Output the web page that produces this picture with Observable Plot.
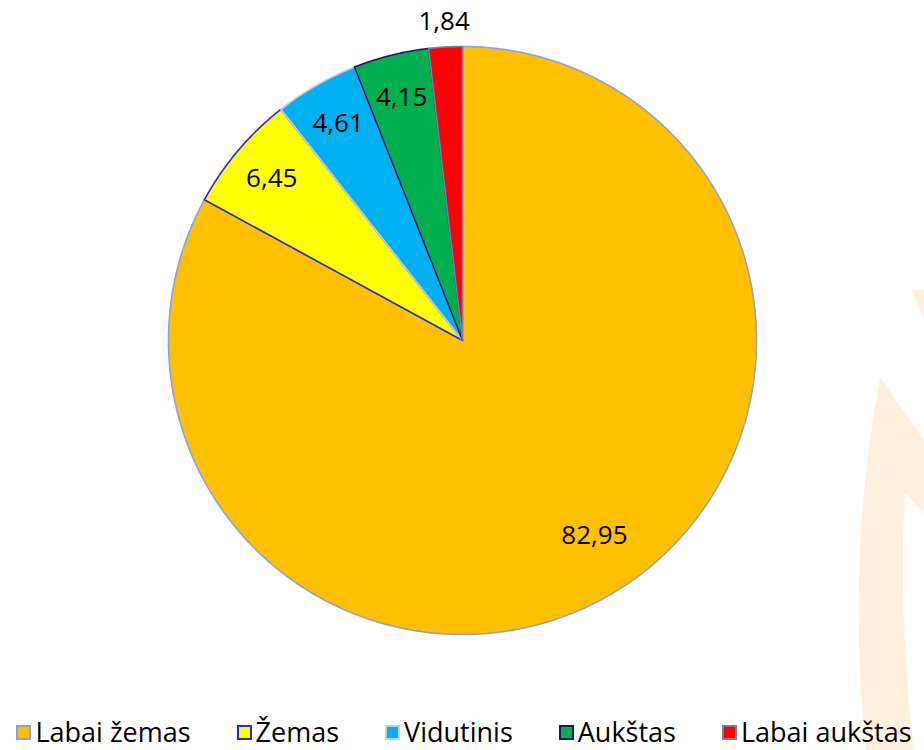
<!DOCTYPE html>
<html>
<head>
<meta charset="utf-8">
<script src="https://cdn.jsdelivr.net/npm/d3@7"></script>
<script src="https://cdn.jsdelivr.net/npm/@observablehq/plot@0.6"></script>
<style>
  html, body { margin: 0; padding: 0; background: #ffffff; }
  body { width: 924px; height: 750px; position: relative; overflow: hidden; font-family: "Open Sans", sans-serif; }
  #wm { position: absolute; left: 0; top: 0; z-index: 0; }
  #chart { position: absolute; left: 0; top: 0; z-index: 1; }
  #legend { position: absolute; left: 0; top: 717px; width: 924px; height: 30px; line-height: 30px; display: flex; justify-content: center; align-items: center; gap: 46px; z-index: 1; font-size: 27px; color: #000; padding-left: 4px; box-sizing: border-box; }
  .item { display: flex; align-items: center; gap: 4px; white-space: nowrap; }
  .sw { width: 11px; height: 11px; border-width: 2px; border-style: solid; }
</style>
</head>
<body>
<svg id="wm" width="924" height="750"><path d="M880,378 L924,440 L924,513 L905,493 Q898,620 914,750 L866,750 Q846,560 880,378 Z M911,290 L924,290 L924,318 Z" fill="#FFF0DD"/></svg>
<div id="chart"></div>
<div id="legend"></div>
<script>
const categories = ["Labai žemas", "Žemas", "Vidutinis", "Aukštas", "Labai aukštas"];
const values = [82.95, 6.45, 4.61, 4.15, 1.84];
const labels = ["82,95", "6,45", "4,61", "4,15", "1,84"];
const fills = ["#FFC000", "#FFFF00", "#00B0F0", "#00B050", "#FF0000"];
const borders = ["#8EA2D8", "#2B2BC8", "#BFCFE8", "#1A1A5E", "#7E7AA8"];

const W = 924, H = 710, R = 294, CX = 462, CY = 340;

const arcs = d3.pie().sort(null).value(d => d)(values);

const slicePts = [];
arcs.forEach((a, i) => {
  slicePts.push({k: i, x: 0, y: 0});
  const n = Math.max(4, Math.ceil((a.endAngle - a.startAngle) / 0.005));
  for (let j = 0; j <= n; j++) {
    const t = a.startAngle + (a.endAngle - a.startAngle) * j / n;
    slicePts.push({k: i, x: Math.sin(t), y: Math.cos(t)});
  }
  slicePts.push({k: i, x: 0, y: 0});
});

const labelPts = arcs.map((a, i) => {
  const m = (a.startAngle + a.endAngle) / 2;
  const frac = a.value / d3.sum(values);
  const r = frac > 0.5 ? 0.8 : (frac < 0.03 ? 1.085 : 0.85);
  const shift = frac > 0.5 ? -0.06 : 0;
  return {k: i, x: r * Math.sin(m + shift), y: r * Math.cos(m + shift), text: labels[i]};
});

const plot = Plot.plot({
  width: W, height: H,
  margin: 0,
  x: {domain: [-CX / R, (W - CX) / R], range: [0, W], axis: null},
  y: {domain: [-(H - CY) / R, CY / R], range: [H, 0], axis: null},
  style: {background: "transparent", fontFamily: "'Open Sans', sans-serif"},
  marks: [
    Plot.line(slicePts, {
      x: "x", y: "y", z: "k",
      fill: d => fills[d.k],
      stroke: d => borders[d.k],
      strokeWidth: 1.6,
      strokeLinejoin: "round",
      curve: "linear"
    }),
    Plot.text(labelPts, {
      x: "x", y: "y", text: "text",
      fontSize: 26, fill: "#000"
    })
  ]
});
document.getElementById("chart").appendChild(plot);

const legend = document.getElementById("legend");
categories.forEach((c, i) => {
  const it = document.createElement("div");
  it.className = "item";
  const sw = document.createElement("span");
  sw.className = "sw";
  sw.style.background = fills[i];
  sw.style.borderColor = borders[i];
  const tx = document.createElement("span");
  tx.textContent = c;
  it.appendChild(sw); it.appendChild(tx);
  legend.appendChild(it);
});
</script>
</body>
</html>
